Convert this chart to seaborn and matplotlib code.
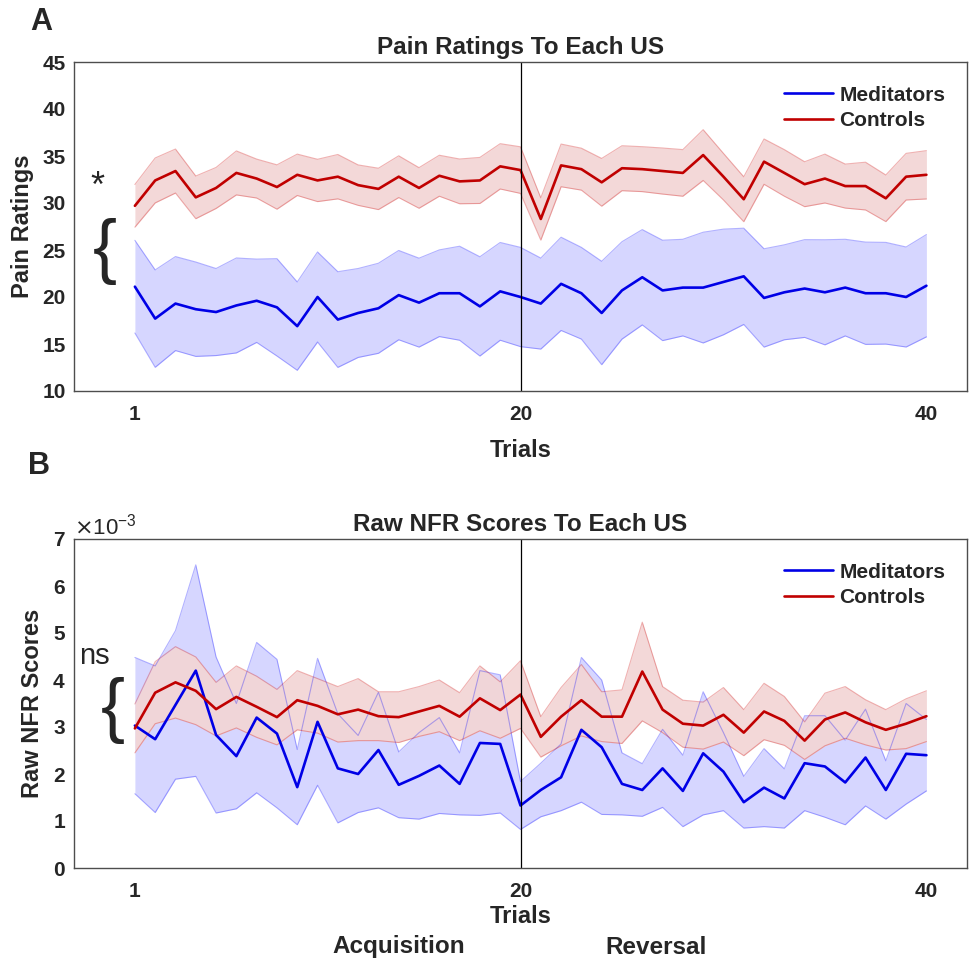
import numpy as np
import pandas as pd
import matplotlib
matplotlib.use("Agg")
import matplotlib.pyplot as plt
import seaborn as sns
from matplotlib.ticker import ScalarFormatter

# trial numbers
trials = np.arange(1, 41)

# Pain ratings (mean and SEM per trial)
pain_med = [21.1, 17.7, 19.3, 18.7, 18.4, 19.1, 19.6, 18.9, 16.9, 20.0,
            17.6, 18.3, 18.8, 20.2, 19.4, 20.4, 20.4, 19.0, 20.6, 20.0,
            19.3, 21.4, 20.4, 18.3, 20.7, 22.1, 20.7, 21.0, 21.0, 21.6,
            22.2, 19.9, 20.5, 20.9, 20.5, 21.0, 20.4, 20.4, 20.0, 21.2]
pain_med_sem = [4.93, 5.18, 5.0, 5.02, 4.63, 5.05, 4.43, 5.18, 4.7, 4.79,
                5.09, 4.73, 4.79, 4.75, 4.73, 4.61, 5.0, 5.28, 5.2, 5.28,
                4.84, 4.96, 4.88, 5.5, 5.18, 5.07, 5.34, 5.14, 5.89, 5.62,
                5.12, 5.23, 5.05, 5.2, 5.59, 5.14, 5.44, 5.41, 5.32, 5.44]
pain_ctl = [29.7, 32.4, 33.4, 30.6, 31.6, 33.2, 32.6, 31.7, 33.0, 32.4,
            32.8, 31.9, 31.5, 32.8, 31.6, 32.9, 32.3, 32.4, 33.9, 33.5,
            28.3, 34.0, 33.6, 32.2, 33.7, 33.6, 33.4, 33.2, 35.1, 32.8,
            30.4, 34.4, 33.2, 32.0, 32.6, 31.8, 31.8, 30.5, 32.8, 33.0]
pain_ctl_sem = [2.27, 2.39, 2.34, 2.27, 2.18, 2.34, 2.07, 2.36, 2.2, 2.25,
                2.36, 2.15, 2.2, 2.22, 2.16, 2.18, 2.38, 2.45, 2.41, 2.48,
                2.25, 2.27, 2.23, 2.54, 2.39, 2.39, 2.45, 2.48, 2.7, 2.48,
                2.39, 2.41, 2.48, 2.39, 2.6, 2.34, 2.54, 2.48, 2.48, 2.57]

# Raw NFR scores (x 1e-3)
nfr_med = [3.03, 2.74, 3.47, 4.20, 2.83, 2.38, 3.20, 2.86, 1.72, 3.11,
           2.12, 2.00, 2.51, 1.77, 1.96, 2.18, 1.79, 2.66, 2.64, 1.33,
           1.66, 1.93, 2.94, 2.57, 1.79, 1.66, 2.12, 1.64, 2.44, 2.05,
           1.40, 1.71, 1.48, 2.23, 2.16, 1.82, 2.35, 1.66, 2.43, 2.40]
nfr_med_sem = [1.45, 1.56, 1.58, 2.25, 1.66, 1.12, 1.6, 1.58, 0.8, 1.35,
               1.16, 0.82, 1.23, 0.7, 0.92, 1.02, 0.66, 1.54, 1.47, 0.51,
               0.57, 0.71, 1.54, 1.43, 0.66, 0.56, 0.83, 0.76, 1.31, 0.83,
               0.55, 0.83, 0.63, 1.01, 1.08, 0.9, 1.03, 0.62, 1.07, 0.76]
nfr_ctl = [2.97, 3.73, 3.95, 3.77, 3.38, 3.64, 3.43, 3.21, 3.57, 3.45,
           3.27, 3.37, 3.23, 3.21, 3.33, 3.45, 3.22, 3.61, 3.36, 3.69,
           2.79, 3.22, 3.57, 3.22, 3.22, 4.18, 3.37, 3.07, 3.03, 3.26,
           2.88, 3.33, 3.13, 2.71, 3.16, 3.31, 3.10, 2.94, 3.07, 3.23]
nfr_ctl_sem = [0.52, 0.66, 0.76, 0.72, 0.57, 0.66, 0.65, 0.59, 0.63, 0.58,
               0.59, 0.66, 0.52, 0.54, 0.53, 0.55, 0.51, 0.69, 0.6, 0.72,
               0.43, 0.62, 0.76, 0.53, 0.57, 1.05, 0.49, 0.5, 0.5, 0.58,
               0.49, 0.6, 0.52, 0.4, 0.56, 0.55, 0.48, 0.43, 0.53, 0.54]

groups = ["Meditators", "Controls"]
colors = {"Meditators": "#0000e6", "Controls": "#c00000"}

sns.set_theme(style="white")
plt.rcParams["font.family"] = ["Liberation Sans", "DejaVu Sans"]
plt.rcParams["axes.edgecolor"] = "#4d4d4d"
plt.rcParams["axes.linewidth"] = 1.0

fig = plt.figure(figsize=(9.69, 9.68), dpi=100)
W, H = 969, 968
ax1 = fig.add_axes([74 / W, 1 - 391 / H, 893 / W, 329 / H])
ax2 = fig.add_axes([74 / W, 1 - 868 / H, 893 / W, 329 / H])


def draw_panel(ax, med, med_sem, ctl, ctl_sem, scale=1.0):
    med = np.array(med) * scale
    ctl = np.array(ctl) * scale
    med_sem = np.array(med_sem) * scale
    ctl_sem = np.array(ctl_sem) * scale
    # shaded SEM bands (red band nearly opaque over the blue one)
    ax.fill_between(trials, med - med_sem, med + med_sem,
                    facecolor="#0000ff", alpha=0.16, lw=0)
    ax.fill_between(trials, ctl - ctl_sem, ctl + ctl_sem,
                    facecolor="#f3d5d5", alpha=0.92, lw=0)
    for edge in (med - med_sem, med + med_sem):
        ax.plot(trials, edge, color="#0000ff", alpha=0.3, lw=0.8)
    for edge in (ctl - ctl_sem, ctl + ctl_sem):
        ax.plot(trials, edge, color="#cc0000", alpha=0.3, lw=0.8)
    df = pd.DataFrame({
        "trial": np.concatenate([trials, trials]),
        "value": np.concatenate([med, ctl]),
        "group": ["Meditators"] * 40 + ["Controls"] * 40,
    })
    sns.lineplot(data=df, x="trial", y="value", hue="group", hue_order=groups,
                 palette=colors, lw=1.9, errorbar=None, ax=ax)
    ax.axvline(20, color="black", lw=0.9)
    ax.set_xlim(-2, 42)
    ax.set_xticks([1, 20, 40])
    ax.tick_params(axis="both", length=0, labelsize=15, labelcolor="#262626")
    ax.tick_params(axis="x", pad=10)
    ax.tick_params(axis="y", pad=6)
    for lab in ax.get_xticklabels() + ax.get_yticklabels():
        lab.set_fontweight("bold")
    sns.move_legend(ax, "upper right", bbox_to_anchor=(0.997, 0.985),
                    frameon=False, title=None, handlelength=2.35,
                    handletextpad=0.3, labelspacing=0.3,
                    prop={"weight": "bold", "size": 15})


# Panel A
draw_panel(ax1, pain_med, pain_med_sem, pain_ctl, pain_ctl_sem)
ax1.set_ylim(10, 45)
ax1.set_yticks(range(10, 50, 5))
ax1.set_title("Pain Ratings To Each US", fontsize=17.5, fontweight="bold", pad=6)
ax1.set_xlabel("Trials", fontsize=17, fontweight="bold", color="#262626", labelpad=11)
ax1.set_ylabel("Pain Ratings", fontsize=17, fontweight="bold", color="#262626", labelpad=6)
ax1.text(-0.85, 31.7, "*", fontsize=26, ha="center", va="center", clip_on=False)
ax1.text(-0.5, 24.8, "{", fontsize=52, ha="center", va="center", clip_on=False)

# Panel B
draw_panel(ax2, nfr_med, nfr_med_sem, nfr_ctl, nfr_ctl_sem, scale=1e-3)
ax2.set_ylim(0, 7e-3)
ax2.set_yticks(np.arange(0, 8) * 1e-3)
fmt = ScalarFormatter(useMathText=True)
fmt.set_powerlimits((-3, -3))
ax2.yaxis.set_major_formatter(fmt)
ax2.yaxis.get_offset_text().set_fontsize(16)
ax2.set_title("Raw NFR Scores To Each US", fontsize=17.5, fontweight="bold", pad=6)
ax2.set_xlabel("Trials", fontsize=17, fontweight="bold", color="#262626", labelpad=3)
ax2.set_ylabel("Raw NFR Scores", fontsize=17, fontweight="bold", color="#262626", labelpad=6)
ax2.text(-1.0, 4.5e-3, "ns", fontsize=21, ha="center", va="center", clip_on=False)
ax2.text(-0.1, 3.35e-3, "{", fontsize=52, ha="center", va="center", clip_on=False)

# panel letters and phase labels
fig.text(41 / W, 1 - 22 / H, "A", fontsize=22, fontweight="bold", ha="center", va="center")
fig.text(39 / W, 1 - 466 / H, "B", fontsize=22, fontweight="bold", ha="center", va="center")
fig.text(399 / W, 1 - 947 / H, "Acquisition", fontsize=17.5, fontweight="bold",
         color="#262626", ha="center", va="center")
fig.text(656 / W, 1 - 947 / H, "Reversal", fontsize=17.5, fontweight="bold",
         color="#262626", ha="center", va="center")

fig.savefig("out.png", dpi=100)
